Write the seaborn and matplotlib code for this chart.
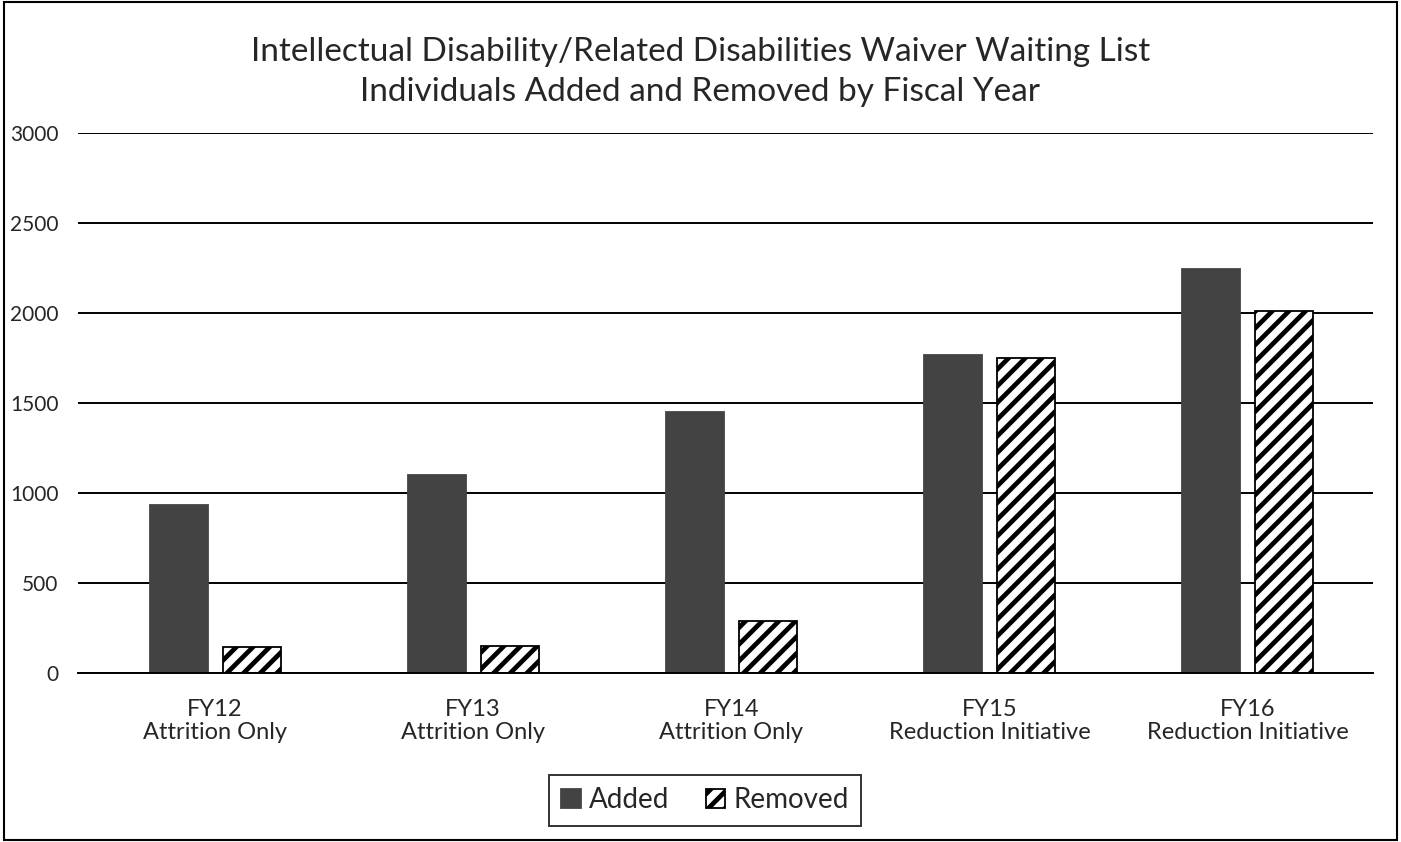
import matplotlib
matplotlib.use("Agg")
import matplotlib.pyplot as plt
import seaborn as sns
import pandas as pd
from matplotlib.patches import Rectangle

categories = ["FY12\nAttrition Only", "FY13\nAttrition Only", "FY14\nAttrition Only",
              "FY15\nReduction Initiative", "FY16\nReduction Initiative"]
added = [935, 1100, 1450, 1768, 2244]
removed = [144, 150, 290, 1750, 2013]
series = ["Added", "Removed"]
yticks = [0, 500, 1000, 1500, 2000, 2500, 3000]
title = "Intellectual Disability/Related Disabilities Waiver Waiting List\nIndividuals Added and Removed by Fiscal Year"

df = pd.DataFrame({
    "cat": categories * 2,
    "series": [series[0]] * len(categories) + [series[1]] * len(categories),
    "value": added + removed,
})

sns.set_theme(style="white")
plt.rcParams["font.family"] = ["Lato", "DejaVu Sans"]
plt.rcParams["hatch.linewidth"] = 3.4

dark = "#434343"

fig = plt.figure(figsize=(14.01, 8.42), dpi=100)
ax = fig.add_axes([78 / 1401, 1 - 673 / 842, (1373 - 78) / 1401, (673 - 133) / 842])

sns.barplot(data=df, x="cat", y="value", hue="series", order=categories,
            hue_order=series, palette=[dark, "white"], width=0.566, gap=0.205,
            edgecolor="black", linewidth=1.3, ax=ax, legend=True)

n = len(categories)
for i, p in enumerate(ax.patches[:2 * n]):
    if i >= n:
        p.set_hatch("//")
        p.set_facecolor("white")
        p.set_edgecolor("black")
    else:
        p.set_edgecolor(dark)

ax.set_ylim(0, 3000)
ax.set_xlim(-0.531, 4.486)
ax.set_yticks(yticks)
ax.set_yticklabels([str(t) for t in yticks], fontsize=15)
ax.tick_params(axis="both", length=0)
ax.tick_params(axis="y", pad=14)
ax.tick_params(axis="x", pad=19, labelsize=17)
for lbl in ax.get_xticklabels():
    lbl.set_linespacing(1.1)
ax.set_xlabel("")
ax.set_ylabel("")
ax.grid(axis="y", color="black", linewidth=1.4)
ax.set_axisbelow(True)
for s in ["left", "right", "top"]:
    ax.spines[s].set_visible(False)
ax.spines["bottom"].set_color("black")
ax.spines["bottom"].set_linewidth(1.4)

handles, labels = ax.get_legend_handles_labels()
ax.get_legend().remove()
leg = fig.legend(handles, labels, loc="center", bbox_to_anchor=(705 / 1401, 1 - 800 / 842),
                 ncol=2, fontsize=20, frameon=True, fancybox=False, edgecolor="black",
                 handlelength=0.7, handleheight=0.7, handletextpad=0.3, columnspacing=1.3,
                 borderpad=0.45, borderaxespad=0)
leg.get_frame().set_linewidth(1.4)
for i, h in enumerate(leg.legend_handles):
    if i == 1:
        h.set_hatch("//")
        h.set_facecolor("white")
        h.set_edgecolor("black")
    else:
        h.set_edgecolor(dark)

fig.text(0.5, 1 - 72 / 842, title, ha="center", va="center", fontsize=24, linespacing=1.4)

fig.patches.append(Rectangle((4 / 1401, 2 / 842), 1393 / 1401, 838 / 842, transform=fig.transFigure,
                             fill=False, edgecolor="black", linewidth=1.5))

fig.savefig("out.png", dpi=100)
